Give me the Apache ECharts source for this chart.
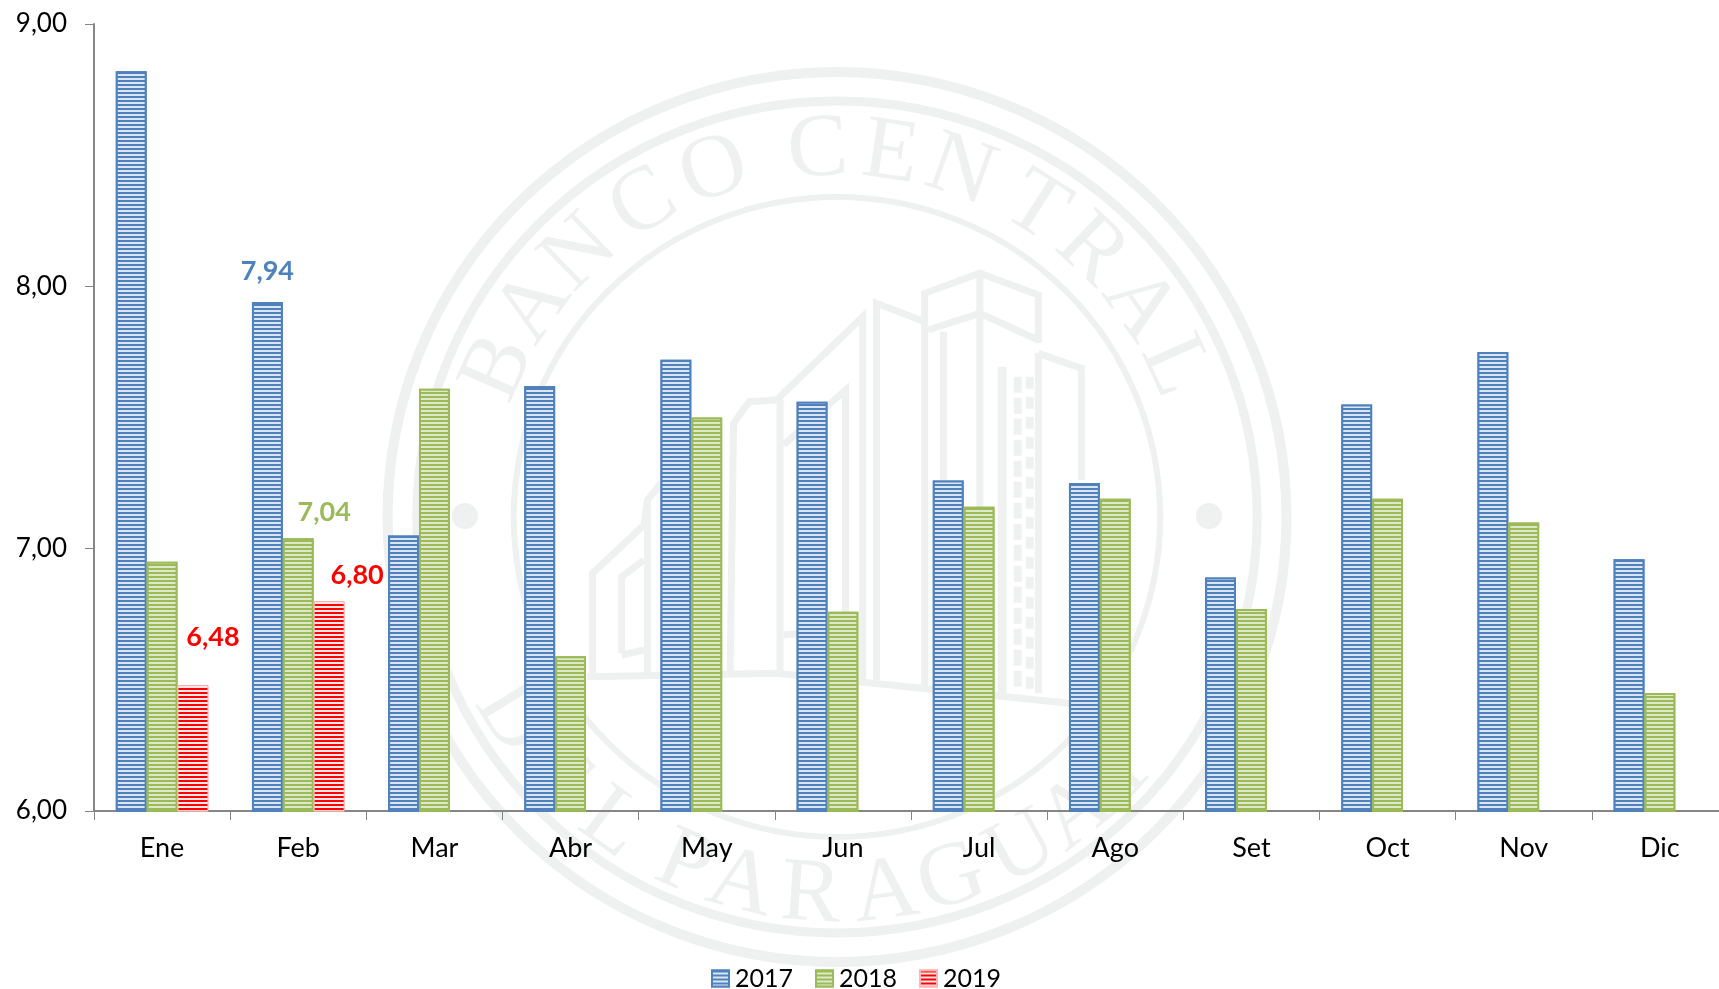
<!DOCTYPE html>
<html>
<head>
<meta charset="utf-8">
<style>html,body{margin:0;padding:0;background:#fff;overflow:hidden;width:1719px;height:989px}#c{width:1728px;height:989px}</style>
<script src="https://cdn.jsdelivr.net/npm/echarts@6/dist/echarts.min.js"></script>
</head>
<body>
<div id="c"></div>
<script>
const months = ['Ene','Feb','Mar','Abr','May','Jun','Jul','Ago','Set','Oct','Nov','Dic'];
const years = ['2017','2018','2019'];
const values2017 = [8.82,7.94,7.05,7.62,7.72,7.56,7.26,7.25,6.89,7.55,7.75,6.96];
const values2018 = [6.95,7.04,7.61,6.59,7.50,6.76,7.16,7.19,6.77,7.19,7.10,6.45];
const values2019 = [6.48,6.80];

const FONT = 'Lato';
const fmt = v => v.toFixed(2).replace('.', ',');
const INK = '#eef1f0';

function seal() {
  const els = [];
  const cx = 837, cy = 517, sx = 1.01;
  const ring = (r, w) => ({type:'circle', shape:{cx:0, cy:0, r}, style:{fill:'none', stroke:INK, lineWidth:w}, silent:true});
  const letter = (ch, px, py, rot) => ({type:'text', x:px, y:py, rotation:rot, silent:true,
    style:{text:ch, font:'90px "Liberation Serif"', fill:INK, align:'center', verticalAlign:'middle'}});
  const kids = [ring(445,10), ring(416,9), ring(320,6)];
  const R = 366, Rb = 380;
  [['B',-66],['A',-55],['N',-44],['C',-31.5],['O',-19.4],['C',-3],['E',8.3],['N',19.5],['T',32.5],['R',43.4],['A',54.7],['L',65.7]]
    .forEach(([c,d]) => { const a = d*Math.PI/180; kids.push(letter(c, R*Math.sin(a), -R*Math.cos(a), -a)); });
  [['D',58],['E',47],['L',36],['P',23.5],['A',14.5],['R',3.9],['A',-7.3],['G',-17.4],['U',-28.8],['A',-38.6],['Y',-48]]
    .forEach(([c,d]) => { const a = d*Math.PI/180; kids.push(letter(c, -Rb*Math.sin(a), Rb*Math.cos(a), -a)); });
  els.push({type:'group', x:cx, y:cy, scaleX:sx, children:kids, silent:true});
  [[465,516],[1209,516]].forEach(p => els.push({type:'circle', shape:{cx:p[0], cy:p[1], r:13}, style:{fill:INK}, silent:true}));
  const Z = p => [570+p[0]/2.904, 260+p[1]/3];
  const pl = (pts, w, dash) => els.push({type:'polyline', shape:{points:pts.map(Z)}, silent:true,
    style:{fill:'none', stroke:INK, lineWidth:w||7, lineDash:dash||null}});
  pl([[50,1250],[600,1240],[880,1270],[1450,1330]]);
  pl([[65,1240],[65,940],[215,795],[225,720],[265,670]]);
  pl([[225,1240],[225,720]]);
  pl([[150,1180],[150,950],[215,900]]);
  pl([[150,1185],[215,1170]]);
  pl([[465,1240],[475,490],[520,425],[600,420]]);
  pl([[600,420],[850,170],[850,1260]]);
  pl([[610,1240],[610,420]]);
  pl([[620,555],[800,390],[800,1110],[620,1125]]);
  pl([[890,1260],[890,130],[1030,185]]);
  pl([[1030,1280],[1030,100],[1190,40],[1360,105],[1360,250]]);
  pl([[1040,210],[1190,160],[1360,240]]);
  pl([[1190,40],[1190,1290]]);
  pl([[1085,215],[1085,660]]);
  pl([[1360,280],[1485,325],[1485,660]]);
  pl([[1360,280],[1360,1300]]);
  pl([[1255,320],[1255,1300]], 9);
  pl([[1300,350],[1300,1290]], 8, [16,5]);
  pl([[1335,350],[1335,1290]], 8, [12,8]);
  return els;
}

const styles = {
  '2017': {stroke:'#4f81bd', bg:'#dce6f2'},
  '2018': {stroke:'#9bbb59', bg:'#dfe8c9'},
  '2019': {stroke:'#ff0000', bg:'#ffe8e8'}
};
const barStyle = y => ({
  color: styles[y].bg,
  borderColor: y === '2019' ? '#ffb3b3' : styles[y].stroke,
  borderWidth: y === '2019' ? 1 : 2,
  decal: {symbol:'rect', symbolSize:1, color:styles[y].stroke, backgroundColor:styles[y].bg,
          dashArrayX:[1,0], dashArrayY:[2,2], rotation:0}
});
const lab = (color, ox, oy) => ({show:true, position:'top', offset:[ox,oy], color, fontFamily:FONT,
  fontWeight:'bold', fontSize:27, formatter:p => fmt(p.value)});

const with_labels = (arr, map) => arr.map((v,i) => map[i] ? {value:v, label:map[i]} : v);

const series = [
  {name:'2017', type:'bar', data:with_labels(values2017, {1:lab('#4f81bd',0,-12)})},
  {name:'2018', type:'bar', data:with_labels(values2018, {1:lab('#9bbb59',26,-7)})},
  {name:'2019', type:'bar', data:with_labels(values2019, {0:lab('#ff0000',20,-29), 1:lab('#ff0000',28,-7)})}
].map(s => Object.assign(s, {barGap:0, barCategoryGap:'32%', itemStyle:barStyle(s.name), animation:false,
  emphasis:{disabled:true}}));

const chart = echarts.init(document.getElementById('c'), null, {renderer:'canvas'});
chart.setOption({
  animation:false,
  backgroundColor:'#fff',
  graphic:{elements:seal()},
  grid:{left:94, top:24, right:0, bottom:178, containLabel:false},
  legend:{data:years, top:961, left:706, itemWidth:17, itemHeight:16, itemGap:22, icon:'rect',
    textStyle:{fontFamily:FONT, fontSize:25, color:'#000', padding:[0,0,0,1]}},
  xAxis:{type:'category', data:months,
    axisLine:{lineStyle:{color:'#868686', width:2}},
    axisTick:{show:true, length:9, alignWithLabel:false, lineStyle:{color:'#868686', width:1}},
    axisLabel:{fontFamily:FONT, fontSize:27, color:'#000', margin:24, interval:0},
    splitLine:{show:false}},
  yAxis:{type:'value', min:6, max:9, interval:1,
    axisLine:{show:true, lineStyle:{color:'#868686', width:2}},
    axisTick:{show:true, length:9, lineStyle:{color:'#868686', width:1}},
    axisLabel:{fontFamily:FONT, fontSize:26, color:'#000', margin:27, formatter:fmt},
    splitLine:{show:false}},
  series
});
</script>
</body>
</html>
